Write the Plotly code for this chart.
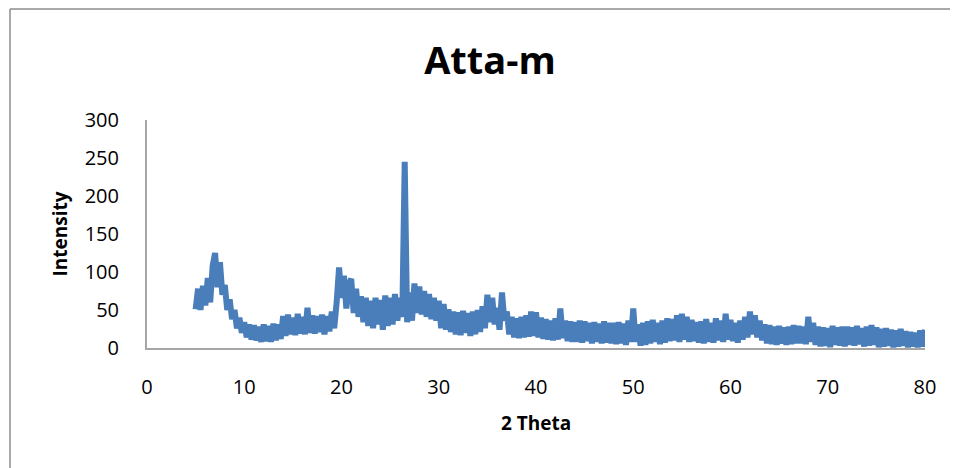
import numpy as np
import plotly.graph_objects as go

# XRD scan: 2-theta from 5 to 80 deg, step 0.25 deg
theta_start = 5.0
theta_step = 0.25
intensity = [
    51, 78, 50, 82,      # 5
    56, 92, 60, 108,     # 6
    125, 80, 113, 70,    # 7
    83, 50, 64, 38,      # 8
    50, 26, 40, 20,      # 9
    34, 14, 31, 11,      # 10
    30, 10, 28, 8,       # 11
    31, 9, 29, 8,        # 12
    32, 10, 31, 12,      # 13
    42, 16, 44, 18,      # 14
    40, 17, 45, 19,      # 15
    41, 18, 53, 20,      # 16
    43, 19, 42, 21,      # 17
    44, 18, 42, 22,      # 18
    48, 26, 60, 106,     # 19
    66, 95, 52, 84,      # 20
    91, 46, 78, 41,      # 21
    68, 34, 66, 29,      # 22
    62, 26, 66, 31,      # 23
    63, 24, 69, 29,      # 24
    66, 31, 71, 36,      # 25
    66, 41, 245, 34,     # 26
    73, 36, 85, 46,      # 27
    81, 44, 75, 41,      # 28
    71, 38, 66, 36,      # 29
    62, 26, 58, 24,      # 30
    51, 21, 48, 18,      # 31
    47, 17, 49, 20,      # 32
    46, 16, 48, 18,      # 33
    50, 21, 55, 26,      # 34
    70, 34, 66, 31,      # 35
    53, 24, 73, 36,      # 36
    48, 18, 41, 14,      # 37
    39, 13, 41, 14,      # 38
    43, 15, 48, 16,      # 39
    47, 14, 40, 12,      # 40
    38, 11, 36, 10,      # 41
    39, 11, 52, 13,      # 42
    36, 9, 35, 8,        # 43
    34, 8, 36, 7,        # 44
    35, 9, 33, 6,        # 45
    34, 8, 32, 6,        # 46
    35, 7, 33, 6,        # 47
    33, 5, 34, 6,        # 48
    32, 4, 36, 8,        # 49
    52, 8, 31, 3,        # 50
    33, 4, 35, 6,        # 51
    37, 8, 33, 5,        # 52
    36, 7, 39, 9,        # 53
    38, 10, 43, 8,       # 54
    45, 11, 41, 8,       # 55
    37, 9, 34, 7,        # 56
    35, 6, 38, 8,        # 57
    33, 7, 39, 10,       # 58
    36, 8, 45, 11,       # 59
    37, 9, 33, 7,        # 60
    36, 11, 41, 14,      # 61
    48, 18, 43, 14,      # 62
    36, 10, 31, 6,       # 63
    30, 5, 28, 4,        # 64
    29, 6, 27, 4,        # 65
    28, 5, 30, 6,        # 66
    29, 6, 28, 5,        # 67
    41, 8, 33, 4,        # 68
    28, 2, 27, 3,        # 69
    26, 1, 29, 4,        # 70
    27, 3, 28, 2,        # 71
    28, 4, 27, 3,        # 72
    29, 5, 26, 2,        # 73
    28, 3, 30, 4,        # 74
    27, 1, 25, 2,        # 75
    26, 3, 24, 1,        # 76
    23, 2, 25, 3,        # 77
    22, 1, 21, 2,        # 78
    20, 1, 23, 2,        # 79
    24,                  # 80
]
two_theta = theta_start + theta_step * np.arange(len(intensity))

x_ticks = [0, 10, 20, 30, 40, 50, 60, 70, 80]
y_ticks = [0, 50, 100, 150, 200, 250, 300]

FONT = "Open Sans, Noto Sans, DejaVu Sans, sans-serif"

# the page adds an 8px body margin; compensate so the plot area lands
# at x 147..925, y 120..348 in the window
OFF = 8
L, R, T, B = 147 - OFF, 958 - (925 - OFF), 120 - OFF, 468 - (348 - OFF)
PW, PH = 958 - L - R, 468 - T - B


def px_x(px):
    return (px - OFF - L) / PW


def px_y(py):
    return (468 - B - (py - OFF)) / PH


fig = go.Figure()
fig.add_trace(go.Scatter(
    x=two_theta, y=intensity, mode="lines",
    line=dict(color="#4A7EBB", width=6, simplify=False),
    showlegend=False, hoverinfo="x+y",
))

fig.update_layout(
    width=958, height=468,
    margin=dict(l=L, r=R, t=T, b=B),
    paper_bgcolor="white", plot_bgcolor="white",
    font=dict(family=FONT, color="#000000"),
    title=dict(text="<b>Atta-m</b>", x=(490 - OFF) / 958, xanchor="center",
               y=1 - (61 - OFF) / 468, yanchor="middle",
               font=dict(family=FONT, size=38, color="#000000")),
    xaxis=dict(range=[0, 80], tickvals=x_ticks, showgrid=False, zeroline=False,
               showline=True, linecolor="#A6A6A6", linewidth=2,
               ticks="", ticklabelstandoff=20,
               tickfont=dict(size=20, color="#000000"),
               title=dict(text="<b>2 Theta</b>", standoff=18,
                          font=dict(size=19, color="#000000"))),
    yaxis=dict(range=[0, 300], tickvals=y_ticks, showgrid=False, zeroline=False,
               showline=True, linecolor="#A6A6A6", linewidth=2,
               ticks="", ticklabelstandoff=22,
               tickfont=dict(size=20, color="#000000"),
               title=dict(text="<b>Intensity</b>", standoff=12,
                          font=dict(size=19, color="#000000"))),
    shapes=[
        dict(type="line", xref="paper", yref="paper",
             x0=px_x(10), x1=px_x(10), y0=px_y(9), y1=px_y(490),
             line=dict(color="#8C8C8C", width=1.5)),
        dict(type="line", xref="paper", yref="paper",
             x0=px_x(10), x1=px_x(980), y0=px_y(9), y1=px_y(9),
             line=dict(color="#8C8C8C", width=1.5)),
    ],
)

fig.write_html("out.html")
